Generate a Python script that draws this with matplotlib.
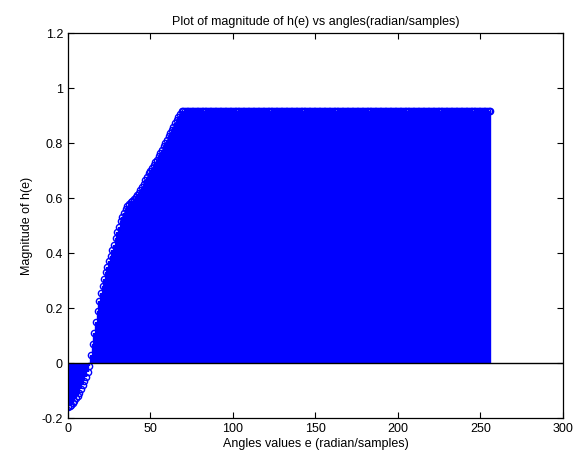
import numpy as np
import matplotlib
matplotlib.use('Agg')
import matplotlib.pyplot as plt

# 幅度值 : 上升段 x=0..70, 之后为平台
mag_rise = [-0.160, -0.158, -0.153, -0.146, -0.138, -0.129, -0.119, -0.108, -0.095, -0.081,
            -0.066, -0.050, -0.032, -0.010, 0.030, 0.070, 0.110, 0.150, 0.190, 0.225,
            0.255, 0.280, 0.305, 0.330, 0.350, 0.370, 0.390, 0.410, 0.430, 0.455,
            0.475, 0.495, 0.515, 0.530, 0.545, 0.560, 0.570, 0.578, 0.585, 0.590,
            0.597, 0.603, 0.610, 0.620, 0.630, 0.640, 0.650, 0.665, 0.677, 0.690,
            0.700, 0.710, 0.720, 0.730, 0.740, 0.752, 0.764, 0.776, 0.788, 0.800,
            0.812, 0.824, 0.836, 0.848, 0.860, 0.872, 0.884, 0.896, 0.907, 0.915,
            0.915]
flat_level = 0.915
n_flat = 186
mag = mag_rise + [flat_level] * n_flat
angles = list(range(len(mag)))

plt.rcParams['font.family'] = ['Liberation Sans', 'DejaVu Sans']
plt.rcParams['font.size'] = 9

fig = plt.figure(figsize=(5.75, 4.66), dpi=100)
ax = fig.add_axes([0.118, 0.103, 0.861, 0.826])

#火柴杆图
ml, sl, bl = ax.stem(angles, mag)
plt.setp(sl, color='#0000ff', linewidth=1.7)
plt.setp(ml, marker='o', markersize=4.5, markerfacecolor='none',
         markeredgecolor='#0000ff', markeredgewidth=1.0)
bl.set_visible(False)
ax.axhline(0, color='black', linewidth=1.0, zorder=3)

ax.set_xlim(0, 300)
ax.set_ylim(-0.2, 1.2)
ax.set_xticks([0, 50, 100, 150, 200, 250, 300])
ax.set_yticks([-0.2, 0, 0.2, 0.4, 0.6, 0.8, 1, 1.2])
ax.set_yticklabels(['-0.2', '0', '0.2', '0.4', '0.6', '0.8', '1', '1.2'])
ax.tick_params(direction='in', top=True, right=True, length=4, width=0.8)
for s in ax.spines.values():
    s.set_linewidth(0.9)

ax.set_title('Plot of magnitude of h(e) vs angles(radian/samples)', fontsize=9, pad=6)
ax.set_xlabel('Angles values e (radian/samples)', fontsize=9, labelpad=2)
ax.set_ylabel('Magnitude of h(e)', fontsize=9, labelpad=6)

fig.savefig('out.png', dpi=100)
